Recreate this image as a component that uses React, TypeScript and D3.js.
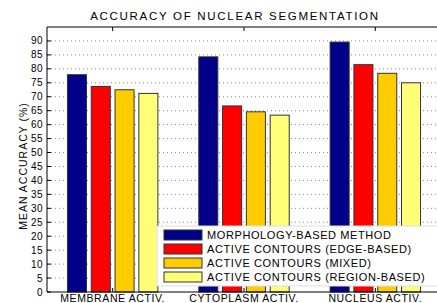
import React, { useRef, useEffect } from "react";
import * as d3 from "d3";

const categories = ["MEMBRANE ACTIV.", "CYTOPLASM ACTIV.", "NUCLEUS ACTIV."];
const seriesNames = [
  "MORPHOLOGY-BASED METHOD",
  "ACTIVE CONTOURS (EDGE-BASED)",
  "ACTIVE CONTOURS (MIXED)",
  "ACTIVE CONTOURS (REGION-BASED)",
];
const seriesColors = ["#000088", "#ff0000", "#ffcc00", "#ffff77"];
const morphology = [77.9, 84.3, 89.6];
const edgeBased = [73.7, 66.7, 81.5];
const mixed = [72.5, 64.6, 78.4];
const regionBased = [71.2, 63.4, 75.0];
const yTicks = d3.range(0, 95, 5);

const W = 437;
const H = 303;
const FONT = "'Liberation Sans', Arial, sans-serif";

const App = () => {
  const ref = useRef<SVGSVGElement>(null);

  useEffect(() => {
    if (!ref.current) return;
    const svg = d3.select(ref.current);
    svg.selectAll("*").remove();

    const left = 47;
    const right = 441;
    const top = 27;
    const bottom = 292;

    const x = d3.scaleLinear().domain([0.5, 3.5]).range([left, right]);
    const y = d3.scaleLinear().domain([0, 95]).range([bottom, top]);
    const inner = d3
      .scaleBand<number>()
      .domain([0, 1, 2, 3])
      .range([-47.6, 47.6])
      .paddingInner(0.2)
      .paddingOuter(0.1);

    const series = [morphology, edgeBased, mixed, regionBased];

    // horizontal grid only
    svg
      .append("g")
      .selectAll("line")
      .data(yTicks.slice(1))
      .enter()
      .append("line")
      .attr("x1", left)
      .attr("x2", right)
      .attr("y1", (d) => y(d))
      .attr("y2", (d) => y(d))
      .attr("stroke", "#888")
      .attr("stroke-width", 1)
      .attr("stroke-dasharray", "1,3");

    // bars
    series.forEach((vals, s) => {
      svg
        .append("g")
        .selectAll("rect")
        .data(vals)
        .enter()
        .append("rect")
        .attr("x", (d, i) => x(i + 1) + (inner(s) as number))
        .attr("y", (d) => y(d))
        .attr("width", inner.bandwidth())
        .attr("height", (d) => y(0) - y(d))
        .attr("fill", seriesColors[s])
        .attr("stroke", "#333")
        .attr("stroke-width", 1);
    });

    // axes box
    const ax = svg.append("g").attr("stroke", "#000").attr("stroke-width", 1);
    ax.append("line").attr("x1", left).attr("x2", left).attr("y1", top).attr("y2", bottom);
    ax.append("line").attr("x1", left).attr("x2", right).attr("y1", bottom).attr("y2", bottom);
    ax.append("line").attr("x1", left).attr("x2", right).attr("y1", top).attr("y2", top);
    ax.selectAll("line.yt")
      .data(yTicks)
      .enter()
      .append("line")
      .attr("x1", left)
      .attr("x2", left + 4)
      .attr("y1", (d) => y(d))
      .attr("y2", (d) => y(d));
    ax.selectAll("line.xt")
      .data([1, 2, 3])
      .enter()
      .append("line")
      .attr("x1", (d) => x(d))
      .attr("x2", (d) => x(d))
      .attr("y1", top)
      .attr("y2", top + 4);
    ax.selectAll("line.xb")
      .data([1, 2, 3])
      .enter()
      .append("line")
      .attr("x1", (d) => x(d))
      .attr("x2", (d) => x(d))
      .attr("y1", bottom)
      .attr("y2", bottom - 4);

    // y tick labels
    svg
      .append("g")
      .selectAll("text")
      .data(yTicks)
      .enter()
      .append("text")
      .attr("x", left - 4)
      .attr("y", (d) => y(d) + 3.5)
      .attr("text-anchor", "end")
      .style("font-family", FONT)
      .style("font-size", "10px")
      .style("letter-spacing", "0.5px")
      .text((d) => d);

    // x labels
    svg
      .append("g")
      .selectAll("text")
      .data(categories)
      .enter()
      .append("text")
      .attr("x", (d, i) => x(i + 1))
      .attr("y", 302)
      .attr("text-anchor", "middle")
      .style("font-family", FONT)
      .style("font-size", "10.5px")
      .style("letter-spacing", "0.6px")
      .text((d) => d);

    // title
    svg
      .append("text")
      .attr("x", 235)
      .attr("y", 20)
      .attr("text-anchor", "middle")
      .style("font-family", FONT)
      .style("font-size", "11.5px")
      .style("letter-spacing", "1.7px")
      .text("ACCURACY OF NUCLEAR SEGMENTATION");

    // y label
    svg
      .append("text")
      .attr("transform", `translate(27,166) rotate(-90)`)
      .attr("text-anchor", "middle")
      .style("font-family", FONT)
      .style("font-size", "10.5px")
      .style("letter-spacing", "1px")
      .text("MEAN ACCURACY (%)");

    // legend
    const lg = svg.append("g");
    lg.append("rect")
      .attr("x", 157)
      .attr("y", 226)
      .attr("width", 300)
      .attr("height", 60)
      .attr("fill", "#fff")
      .attr("stroke", "#ddd");
    const rows = lg
      .selectAll("g")
      .data(seriesNames)
      .enter()
      .append("g")
      .attr("transform", (d, i) => `translate(0,${235 + i * 14})`);
    rows
      .append("rect")
      .attr("x", 164)
      .attr("y", -5)
      .attr("width", 38)
      .attr("height", 10)
      .attr("fill", (d, i) => seriesColors[i])
      .attr("stroke", "#333");
    rows
      .append("text")
      .attr("x", 207)
      .attr("y", 4)
      .style("font-family", FONT)
      .style("font-size", "11px")
      .style("letter-spacing", "0.6px")
      .text((d) => d);
  }, []);

  return (
    <svg
      ref={ref}
      width={W}
      height={H}
      style={{ position: "absolute", left: 0, top: 0, background: "#fff" }}
    />
  );
};

export default App;
